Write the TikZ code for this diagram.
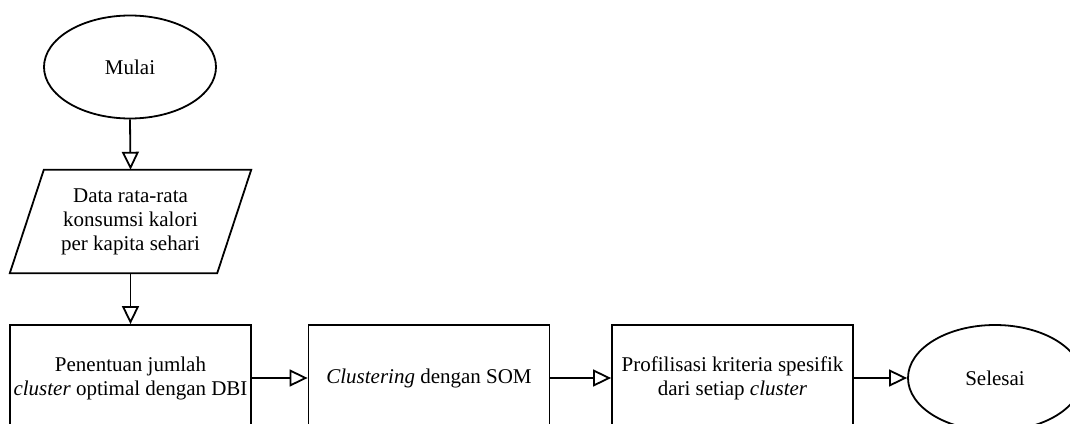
\documentclass[tikz,border=0pt]{standalone}
\usepackage{fontspec}
\setmainfont{Liberation Serif}
\usetikzlibrary{shapes.geometric,arrows.meta}
\begin{document}
\begin{tikzpicture}[x=1pt,y=-1pt,
  every node/.style={font=\fontsize{21}{24}\selectfont, align=center, inner sep=0pt},
  lw/.style={line width=1.8pt},
  term/.style={ellipse, draw, lw},
  proc/.style={rectangle, draw, lw, minimum width=241pt, minimum height=106pt},
  flow/.style={lw, -{Triangle[open, length=18pt, width=17pt, fill=white]}}]
\useasboundingbox (0,0) rectangle (1070,423);
\clip (0,0) rectangle (1070,423);
\node[term, minimum width=172pt, minimum height=103pt] (mulai) at (130,67) {Mulai};
\node[minimum width=241pt, minimum height=103pt] (data) at (130.5,221.5) {Data rata-rata\\konsumsi kalori\\per kapita sehari};
\draw[lw] ([xshift=34pt]data.north west) -- (data.north east) -- ([xshift=-34pt]data.south east) -- (data.south west) -- cycle;
\node[proc] (b1) at (130.5,378) {Penentuan jumlah\\\textit{cluster} optimal dengan DBI};
\node[proc] (b2) at (429,378) {\textit{Clustering} dengan SOM};
\node[proc] (b3) at (732.5,378) {Profilisasi kriteria spesifik\\dari setiap \textit{cluster}};
\node[term, minimum width=174pt, minimum height=106pt] (selesai) at (995,378) {Selesai};
\draw[flow] (mulai.south) -- (data.north);
\draw[flow] (data.south) -- (b1.north);
\draw[flow] (b1.east) -- (b2.west);
\draw[flow] (b2.east) -- (b3.west);
\draw[flow] (b3.east) -- (selesai.west);
\end{tikzpicture}
\end{document}
